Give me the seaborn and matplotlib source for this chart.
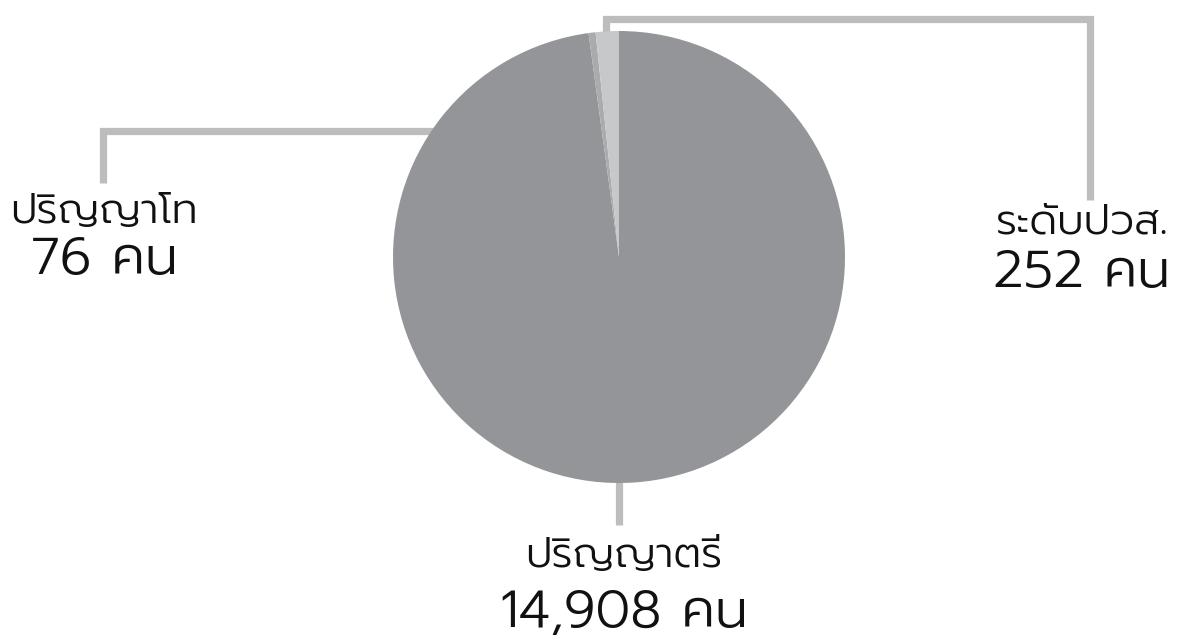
import matplotlib
matplotlib.use("Agg")
import matplotlib.pyplot as plt
import seaborn as sns

# Graduates by education level
levels = ["ปริญญาตรี", "ปริญญาโท", "ระดับปวส."]
counts = [14908, 76, 252]
count_labels = ["14,908 คน", "76 คน", "252 คน"]

sns.set_theme(style="white")
plt.rcParams["font.family"] = ["Prompt", "DejaVu Sans"]

colors = ["#939598", "#aaabad", "#c7c8ca"]
line_color = "#bdbdbd"

W, H = 1183, 639
fig = plt.figure(figsize=(W / 100, H / 100), dpi=100)
ax = fig.add_axes([0, 0, 1, 1])


def py(y):
    # vertical position measured from the top edge
    return H - y


cx, cy, r = 619, py(257), 226

# leader lines, drawn beneath the pie
lw = 5.2
ax.plot([520, 103, 103], [py(131), py(131), py(183)], color=line_color, lw=lw,
        solid_capstyle="butt", solid_joinstyle="miter", zorder=1)
ax.plot([606, 606, 1090, 1090], [py(100), py(19), py(19), py(200)], color=line_color,
        lw=lw, solid_capstyle="butt", solid_joinstyle="miter", zorder=1)
ax.plot([619, 619], [py(400), py(525)], color=line_color, lw=lw,
        solid_capstyle="butt", zorder=1)

wedges, _ = ax.pie(counts, colors=colors, startangle=90, counterclock=False,
                   center=(cx, cy), radius=r, frame=True,
                   wedgeprops=dict(linewidth=0))
for w in wedges:
    w.set_zorder(2)
ax.set_xlim(0, W)
ax.set_ylim(0, H)
ax.set_aspect("equal")
ax.axis("off")

# label blocks: (x centre, label baseline, count baseline)
placements = {
    "ปริญญาตรี": (624, 567, 627),
    "ปริญญาโท": (104, 223, 274),
    "ระดับปวส.": (1082, 233, 287),
}
for name, lab in zip(levels, count_labels):
    x, yb1, yb2 = placements[name]
    ax.text(x, py(yb1), name, ha="center", va="baseline", fontsize=30,
            fontweight=300, color="#111111", zorder=3)
    ax.text(x, py(yb2), lab, ha="center", va="baseline", fontsize=38,
            fontweight=300, color="#111111", zorder=3)

fig.savefig("out.png", dpi=100, facecolor="white")
